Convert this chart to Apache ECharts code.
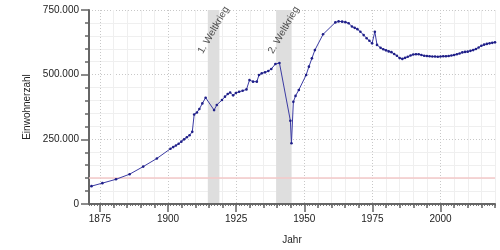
<!DOCTYPE html>
<html><head><meta charset="utf-8">
<script src="https://cdn.jsdelivr.net/npm/echarts@6/dist/echarts.min.js"></script>
<style>html,body{margin:0;padding:0;background:#fff}#c{width:500px;height:250px}</style>
</head><body><div id="c"></div>
<script>
// Data
const years = [1871.9,1875.9,1880.9,1885.9,1890.9,1895.9,1900.9,1901.9,1902.9,1903.9,1904.9,1905.9,1906.9,1907.9,1908.9,1909.6,1910.6,1911.5,1912.6,1913.8,1916.9,1917.9,1919.8,1920.9,1921.9,1922.8,1923.9,1924.9,1926.1,1927.4,1928.8,1929.9,1931.2,1932.6,1933.4,1934.4,1935.6,1936.8,1937.9,1939.4,1940.9,1944.9,1945.3,1946.0,1946.8,1948.0,1950.7,1951.7,1952.8,1953.9,1956.9,1961.4,1962.6,1963.9,1965.1,1966.3,1967.5,1968.5,1969.5,1970.6,1971.8,1972.9,1973.9,1974.9,1975.9,1976.7,1978,1979,1980,1981,1982,1983,1984,1985,1986,1987,1988,1989,1990,1991,1992,1993,1994,1995,1996,1997,1998,1999,2000,2001,2002,2003,2004,2005,2006,2007,2008,2009,2010,2011,2012,2013,2014,2015,2016,2017,2018,2019,2020];
const population = [69000,80700,95500,115200,144600,176000,213700,220000,226000,233000,241000,250000,258000,266000,279000,346000,354000,367000,389000,411000,363000,383000,402000,415000,425000,431000,420000,429000,434000,438000,443000,479000,473000,473000,499000,505000,509000,514000,522000,541000,545000,322000,235000,395000,418000,441000,499000,531000,563000,595000,656000,702000,706000,705000,703000,699000,686000,681000,676000,666000,653000,641000,631000,621000,666000,615000,604000,598000,594000,590000,587000,580000,573000,564000,561000,565000,569000,574000,578000,579000,579000,576000,573000,572000,571000,570000,570000,569000,570000,571000,571000,572000,574000,576000,579000,582000,586000,588000,589000,592000,595000,599000,605000,612000,616000,619000,621000,623000,625000];
const xLabelYears = [1875,1900,1925,1950,1975,2000];
const yTickValues = [0,250000,500000,750000];
const warNames = ['1. Weltkrieg','2. Weltkrieg'];
const warStart = [1914.6,1939.67];
const warEnd = [1918.85,1945.35];
const warLabelValue = 672000;
const thresholdValue = 100000;

const X_MIN = 1871, X_MAX = 2020;
const fiveYears = [];
for (let y = 1875; y <= X_MAX; y += 5) if (xLabelYears.indexOf(y) < 0) fiveYears.push(y);
const allYears = [];
for (let y = X_MIN; y <= X_MAX; y++) allYears.push(y);

const fmt = v => String(v).replace(/\B(?=(\d{3})+(?!\d))/g, '.');
const FONT = 'Liberation Sans';
const txt = {fontFamily: FONT, fontSize: 10, color: '#222'};

const baseX = {type: 'value', min: X_MIN, max: X_MAX, position: 'bottom', gridIndex: 0};
const chart = echarts.init(document.getElementById('c'), null, {renderer: 'canvas'});
chart.setOption({
  animation: false,
  backgroundColor: '#fff',
  grid: {left: 89, right: 5, top: 10, bottom: 46},
  xAxis: [
    Object.assign({}, baseX, {
      name: 'Jahr', nameLocation: 'middle', nameGap: 31,
      nameTextStyle: txt,
      axisLine: {show: true, onZero: false, lineStyle: {color: '#666', width: 2}},
      axisTick: {show: true, length: 8, customValues: xLabelYears, lineStyle: {color: '#666', width: 1.5}},
      axisLabel: Object.assign({show: true, margin: 10, customValues: xLabelYears, formatter: v => String(v)}, txt),
      splitLine: {show: true, lineStyle: {color: '#c8c8c8', type: [1, 2], width: 1}},
      z: 5
    }),
    Object.assign({}, baseX, {
      axisLine: {show: false, onZero: false},
      axisTick: {show: true, length: 4, customValues: fiveYears, lineStyle: {color: '#666', width: 1.5}},
      axisLabel: {show: false},
      splitLine: {show: true, lineStyle: {color: '#efefef', width: 1}},
      z: 1
    }),
    Object.assign({}, baseX, {
      axisLine: {show: false, onZero: false},
      axisTick: {show: true, length: 2, customValues: allYears, lineStyle: {color: '#777', width: 1}},
      axisLabel: {show: false},
      splitLine: {show: false}
    })
  ],
  yAxis: {
    type: 'value', min: 0, max: 750000, interval: 250000,
    name: 'Einwohnerzahl', nameLocation: 'middle', nameGap: 56, nameRotate: 90,
    nameTextStyle: txt,
    axisLine: {show: true, lineStyle: {color: '#666', width: 2}},
    axisTick: {show: true, length: 8, lineStyle: {color: '#666', width: 1.5}},
    minorTick: {show: true, splitNumber: 5, length: 4, lineStyle: {color: '#666', width: 1.5}},
    axisLabel: Object.assign({margin: 10, formatter: v => fmt(v)}, txt),
    splitLine: {show: true, lineStyle: {color: '#c8c8c8', type: [1, 2], width: 1}},
    minorSplitLine: {show: true, lineStyle: {color: '#efefef', width: 1}}
  },
  series: [
    {
      type: 'line', xAxisIndex: 0,
      data: years.map((y, i) => [y, population[i]]),
      symbol: 'circle', symbolSize: 2.6, showAllSymbol: true,
      lineStyle: {color: '#3b3ba3', width: 1},
      itemStyle: {color: '#1f1f88'},
      z: 10,
      markArea: {
        silent: true,
        itemStyle: {color: '#dedede'},
        data: warStart.map((s, i) => [{xAxis: s}, {xAxis: warEnd[i]}])
      },
      markLine: {
        silent: true, symbol: 'none', label: {show: false},
        lineStyle: {color: '#f3c9c9', type: 'solid', width: 1.5},
        data: [{yAxis: thresholdValue}]
      }
    },
    {
      type: 'scatter', xAxisIndex: 0, symbolSize: 0, silent: true,
      data: warNames.map((n, i) => ({value: [(warStart[i] + warEnd[i]) / 2, warLabelValue], name: n})),
      label: {show: true, position: 'inside', rotate: 60, formatter: p => p.name,
        fontFamily: FONT, fontSize: 10, color: '#222'},
      z: 11
    }
  ]
});
</script>
</body></html>
